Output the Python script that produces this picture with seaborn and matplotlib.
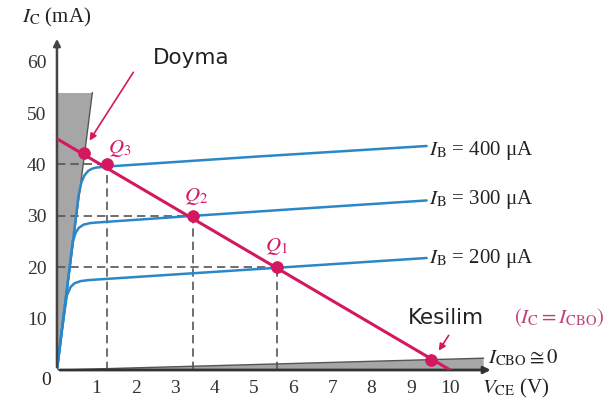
import matplotlib
matplotlib.use("Agg")
import matplotlib.pyplot as plt
import seaborn as sns

# collector characteristic curves (V_CE in V, I_C in mA)
vce_200 = [0, 0.12, 0.25, 0.35, 0.45, 0.6, 0.8, 1.0, 3.0, 5.6, 9.4]
ic_200 = [0, 7.5, 14.5, 16.2, 16.9, 17.3, 17.5, 17.6, 18.6, 19.9, 21.8]
vce_300 = [0, 0.2, 0.4, 0.48, 0.56, 0.68, 0.85, 1.0, 3.46, 6.0, 9.4]
ic_300 = [0, 12.5, 25.0, 26.8, 27.7, 28.3, 28.6, 28.7, 30.0, 31.3, 33.0]
vce_400 = [0, 0.3, 0.55, 0.62, 0.7, 0.8, 0.9, 1.0, 1.27, 5.0, 9.4]
ic_400 = [0, 18.5, 34.0, 36.5, 37.9, 38.8, 39.2, 39.4, 39.6, 41.5, 43.6]
ib_labels = ["400", "300", "200"]
ib_label_y = [42.8, 33.1, 21.8]

# load line
load_v = [0, 10.0]
load_i = [45, 0]

# operating points
q_names = ["Q_1", "Q_2", "Q_3"]
q_v = [5.6, 3.46, 1.27]
q_i = [20, 30, 40]
sat_point = (0.69, 42.3)
cut_point = (9.5, 2.0)

x_ticks = [1, 2, 3, 4, 5, 6, 7, 8, 9, 10]
y_ticks = [10, 20, 30, 40, 50, 60]

sns.set_style("white")
plt.rcParams["font.family"] = ["Liberation Serif", "DejaVu Serif"]
plt.rcParams["mathtext.fontset"] = "stix"

blue = "#2b88c8"
pink = "#d4185f"
gray = "#a6a6a6"
txt = "#222222"

fig = plt.figure(figsize=(6.1, 4.08), dpi=100)
ax = fig.add_axes([0.0934, 0.0931, 0.722, 0.806])

# saturation and cutoff regions
ax.fill([0, 0, 0.9, 0], [0, 54, 54, 0], color=gray, lw=0, zorder=1)
ax.plot([0, 0.9], [0, 54], color="#555555", lw=1, zorder=1)
ax.fill([0, 10.85, 10.85], [0, 2.3, 0], color=gray, lw=0, zorder=1)
ax.plot([0, 10.85], [0, 2.3], color="#555555", lw=1, zorder=1)

# dashed guides to Q points
for v, i in zip(q_v, q_i):
    ax.plot([0, v], [i, i], ls=(0, (5, 3)), color="#555555", lw=1.2, zorder=2)
    ax.plot([v, v], [0, i], ls=(0, (5, 3)), color="#555555", lw=1.2, zorder=2)

for v, i in [(vce_200, ic_200), (vce_300, ic_300), (vce_400, ic_400)]:
    sns.lineplot(x=v, y=i, ax=ax, color=blue, lw=1.8, sort=False, zorder=3)

sns.lineplot(x=load_v, y=load_i, ax=ax, color=pink, lw=2.2, zorder=4)
sns.scatterplot(x=q_v + [sat_point[0], cut_point[0]],
                y=q_i + [sat_point[1], cut_point[1]],
                ax=ax, color=pink, s=70, edgecolor=pink, zorder=5)

for lab, y in zip(ib_labels, ib_label_y):
    ax.text(9.47, y, r"$I_\mathrm{B}$ = " + lab + " μA", fontsize=15,
            va="center", ha="left", color=txt, clip_on=False)

q_lab_pos = [(5.57, 24.1), (3.54, 33.7), (1.6, 43.2)]
for name, (x, y) in zip(q_names, q_lab_pos):
    ax.text(x, y, "$" + name + "$", fontsize=15, color=pink,
            ha="center", va="center")

ax.text(3.42, 60.7, "Doyma", family="DejaVu Sans", fontsize=15.5,
        color=txt, ha="center", va="center")
ax.annotate("", xy=(0.79, 44.2), xytext=(1.98, 58.4),
            arrowprops=dict(arrowstyle="-|>", color=pink, lw=1.2))
ax.text(9.9, 10.1, "Kesilim", family="DejaVu Sans", fontsize=15.5,
        color=txt, ha="center", va="center")
ax.annotate("", xy=(9.67, 3.3), xytext=(10.0, 7.2),
            arrowprops=dict(arrowstyle="-|>", color=pink, lw=1.2))
ax.text(12.77, 10.1, r"$(I_\mathrm{C} = I_\mathrm{CBO})$", fontsize=15,
        color="#c0407a", ha="center", va="center", clip_on=False)
ax.text(10.97, 2.4, r"$I_\mathrm{CBO} \cong 0$", fontsize=15,
        color=txt, ha="left", va="center", clip_on=False)
ax.text(10.8, -3.6, r"$V_\mathrm{CE}$ (V)", fontsize=15,
        color=txt, ha="left", va="center", clip_on=False)
ax.text(0.0, 68.6, r"$I_\mathrm{C}$ (mA)", fontsize=15,
        color=txt, ha="center", va="center", clip_on=False)
ax.text(-0.28, -2.0, "0", fontsize=14, color=txt,
        ha="center", va="center", clip_on=False)

# axes with arrowheads
ax.annotate("", xy=(0, 65), xytext=(0, 0),
            arrowprops=dict(arrowstyle="-|>", color="#444444", lw=1.8),
            annotation_clip=False)
ax.annotate("", xy=(11.1, 0), xytext=(0, 0),
            arrowprops=dict(arrowstyle="-|>", color="#333333", lw=2),
            annotation_clip=False)

ax.set_xlim(0, 11.2)
ax.set_ylim(0, 64)
ax.set_xticks(x_ticks)
ax.set_yticks(y_ticks)
ax.tick_params(labelsize=14, length=4, width=1, colors="#333333")
sns.despine(ax=ax, left=True, bottom=True)

fig.savefig("out.png", dpi=100)
